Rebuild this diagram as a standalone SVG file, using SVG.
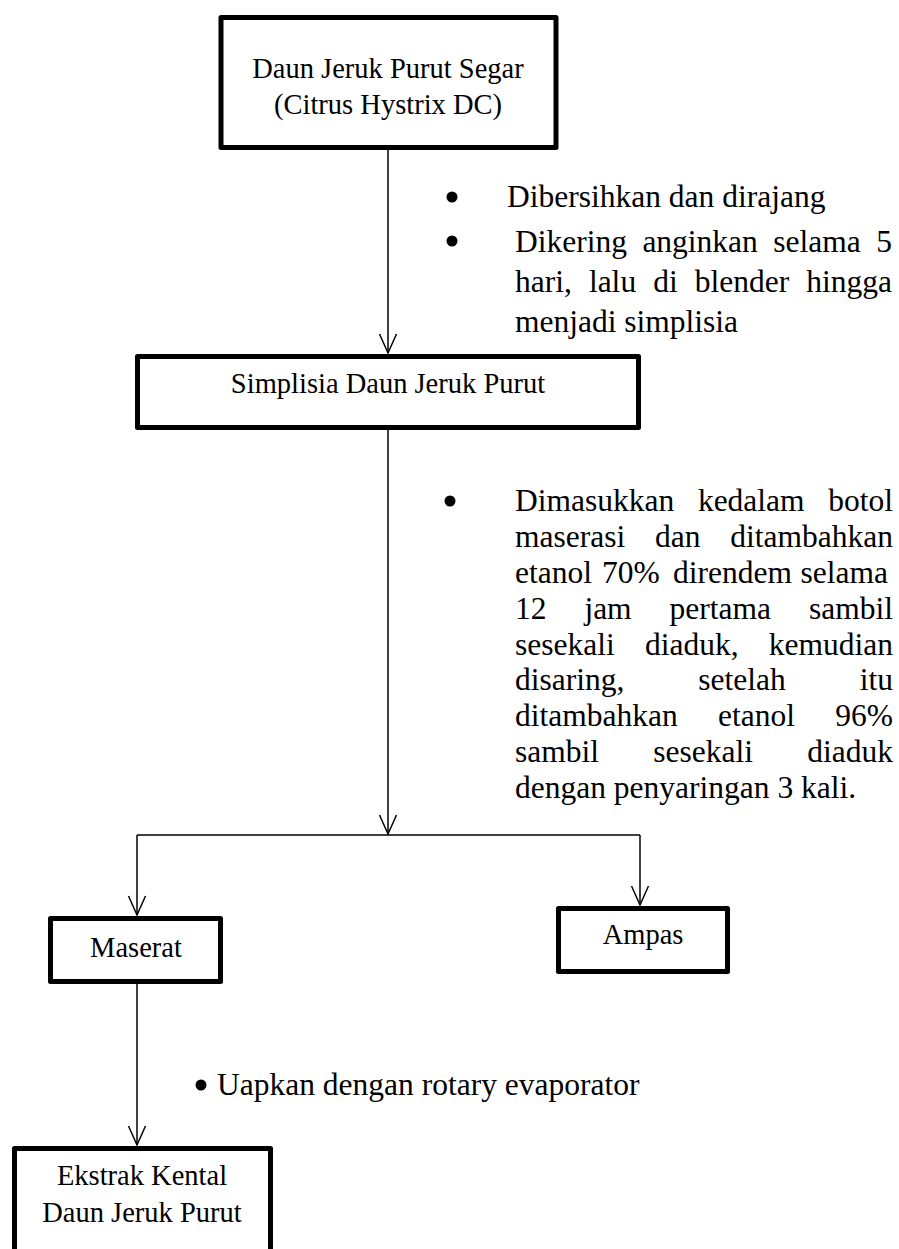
<svg xmlns="http://www.w3.org/2000/svg" width="899" height="1249" viewBox="0 0 899 1249">
<style>
.box{fill:#fff;stroke:#000;stroke-width:5;stroke-linejoin:round}
.bt{font-family:"Liberation Serif","Times New Roman",serif;font-size:28.5px;fill:#000;text-anchor:middle}
.nt{font-family:"Liberation Serif","Times New Roman",serif;font-size:31.5px;fill:#000}
.dot{fill:#000}
.con{fill:none;stroke:#000;stroke-width:1.5}
</style>
<defs>
<marker id="arr" markerUnits="userSpaceOnUse" markerWidth="40" markerHeight="40" refX="0" refY="0" viewBox="-20 -20 40 40" orient="auto" overflow="visible">
<path d="M-19,-8.5 L0,0 L-19,8.5" fill="none" stroke="#000" stroke-width="1.5"/>
</marker>
</defs>
<rect width="899" height="1249" fill="#fff"/>
<g id="connectors">
<line class="con" x1="388" y1="150" x2="388" y2="353" marker-end="url(#arr)"/>
<line class="con" x1="388" y1="430" x2="388" y2="834" marker-end="url(#arr)"/>
<line class="con" x1="137" y1="835" x2="640" y2="835"/>
<line class="con" x1="137" y1="835" x2="137" y2="915" marker-end="url(#arr)"/>
<line class="con" x1="640" y1="835" x2="640" y2="905" marker-end="url(#arr)"/>
<line class="con" x1="137" y1="984" x2="137" y2="1145" marker-end="url(#arr)"/>
</g>
<g id="node-daun-segar">
<rect class="box" x="221" y="17.5" width="335" height="130"/>
<text class="bt" x="388" y="78">Daun Jeruk Purut Segar</text>
<text class="bt" x="388" y="114">(Citrus Hystrix DC)</text>
</g>
<g id="node-simplisia">
<rect class="box" x="137.5" y="356.5" width="501" height="71"/>
<text class="bt" x="388" y="393">Simplisia Daun Jeruk Purut</text>
</g>
<g id="node-maserat">
<rect class="box" x="50.5" y="918.5" width="170" height="63"/>
<text class="bt" x="136" y="957">Maserat</text>
</g>
<g id="node-ampas">
<rect class="box" x="558.5" y="908.5" width="169" height="63"/>
<text class="bt" x="643" y="944">Ampas</text>
</g>
<g id="node-ekstrak">
<rect class="box" x="14.5" y="1148.5" width="256" height="120"/>
<text class="bt" x="142" y="1185">Ekstrak Kental</text>
<text class="bt" x="142" y="1222">Daun Jeruk Purut</text>
</g>
<g id="note-1">
<circle class="dot" cx="452" cy="197" r="5.5"/>
<text class="nt" x="507" y="207">Dibersihkan dan dirajang</text>
<circle class="dot" cx="452" cy="241" r="5.5"/>
<text class="nt" y="252"><tspan x="515">Dikering</tspan><tspan x="642.4">anginkan</tspan><tspan x="773.3">selama</tspan><tspan x="876.3">5</tspan></text>
<text class="nt" y="292"><tspan x="515">hari,</tspan><tspan x="588.9">lalu</tspan><tspan x="653.2">di</tspan><tspan x="694.7">blender</tspan><tspan x="806.3">hingga</tspan></text>
<text class="nt" x="515" y="332">menjadi simplisia</text>
</g>
<g id="note-2">
<circle class="dot" cx="450" cy="501" r="5.5"/>
<text class="nt" y="511"><tspan x="515">Dimasukkan</tspan><tspan x="697.9">kedalam</tspan><tspan x="828.2">botol</tspan></text>
<text class="nt" y="546.9"><tspan x="515">maserasi</tspan><tspan x="655">dan</tspan><tspan x="730.3">ditambahkan</tspan></text>
<text class="nt" y="582.8"><tspan x="515">etanol</tspan><tspan x="602">70%</tspan><tspan x="673">direndem</tspan><tspan x="800.5">selama</tspan></text>
<text class="nt" y="618.6"><tspan x="515">12</tspan><tspan x="584.4">jam</tspan><tspan x="669.6">pertama</tspan><tspan x="809">sambil</tspan></text>
<text class="nt" y="654.5"><tspan x="515">sesekali</tspan><tspan x="645">diaduk,</tspan><tspan x="768.8">kemudian</tspan></text>
<text class="nt" y="690.4"><tspan x="515">disaring,</tspan><tspan x="698.3">setelah</tspan><tspan x="859.7">itu</tspan></text>
<text class="nt" y="726.2"><tspan x="515">ditambahkan</tspan><tspan x="718">etanol</tspan><tspan x="835.3">96%</tspan></text>
<text class="nt" y="762.1"><tspan x="515">sambil</tspan><tspan x="653.3">sesekali</tspan><tspan x="807.3">diaduk</tspan></text>
<text class="nt" x="515" y="798">dengan penyaringan 3 kali.</text>
</g>
<g id="note-3">
<circle class="dot" cx="201" cy="1085" r="5.5"/>
<text class="nt" x="217" y="1095">Uapkan dengan rotary evaporator</text>
</g>
</svg>
